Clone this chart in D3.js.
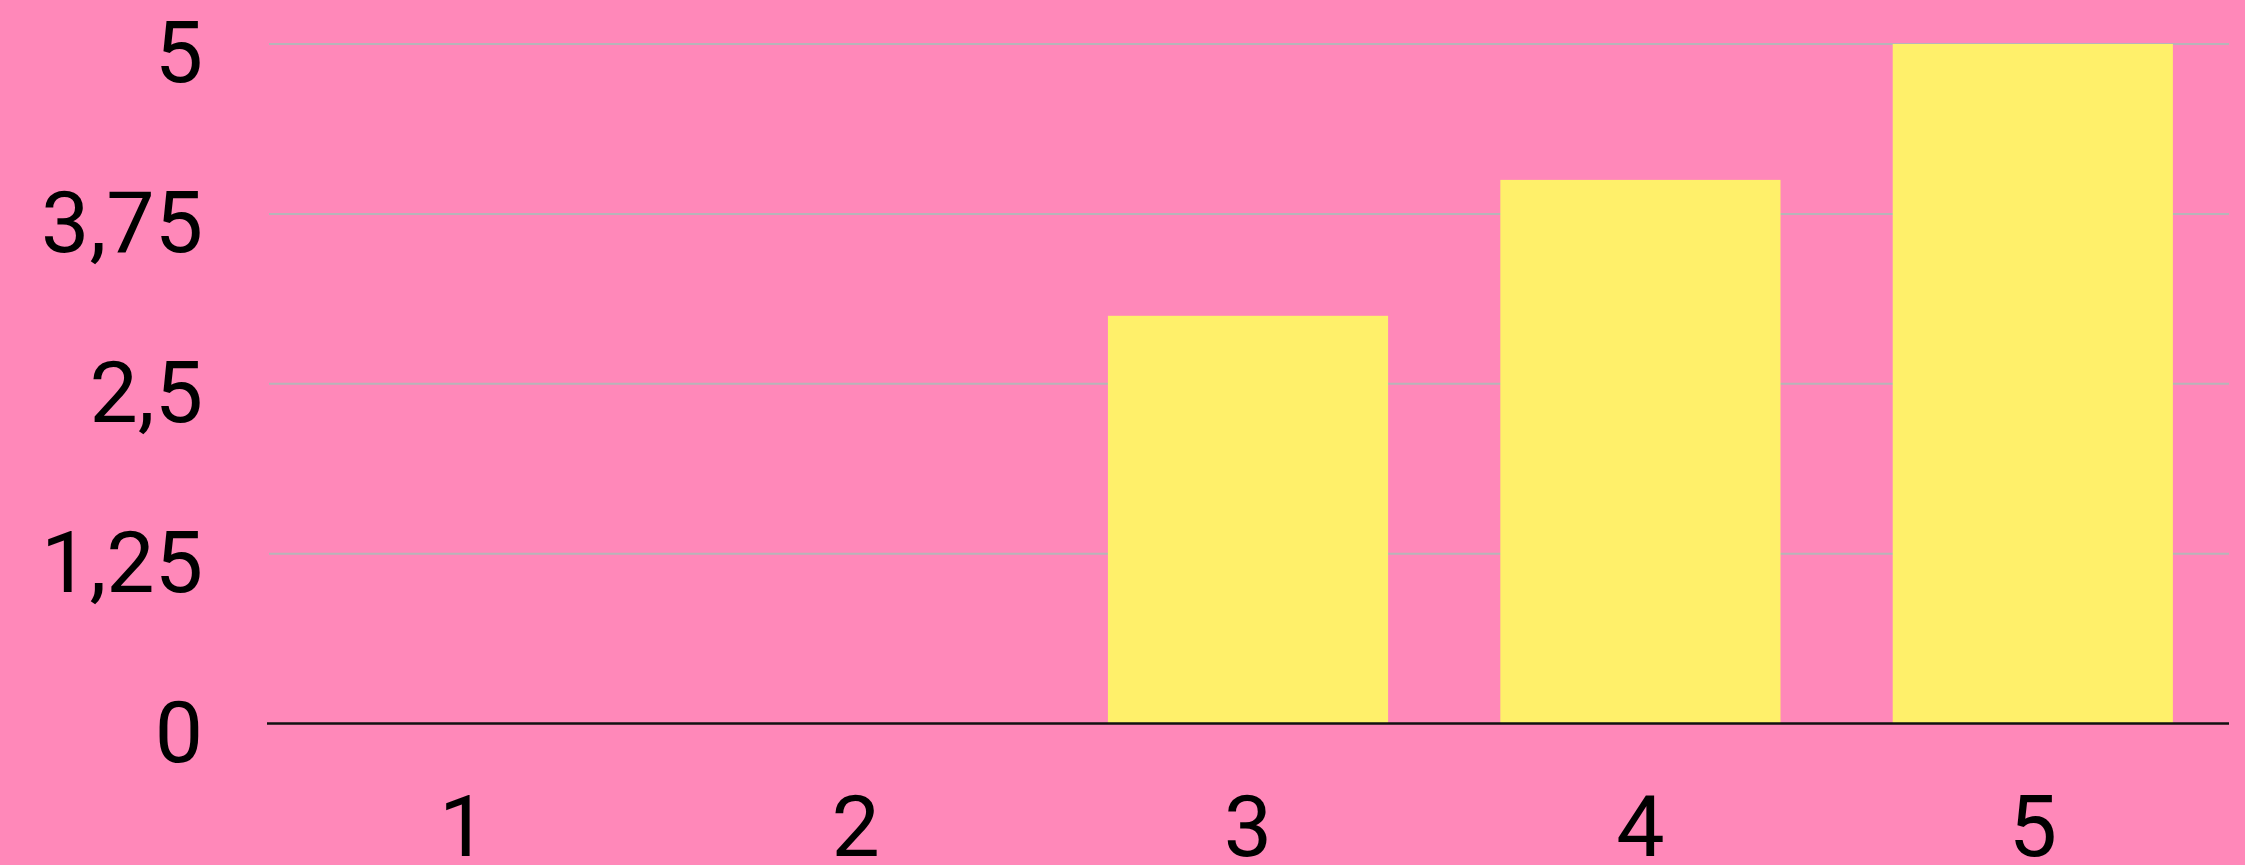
<!DOCTYPE html>
<html>
<head>
<meta charset="utf-8">
<script src="https://cdn.jsdelivr.net/npm/d3@7"></script>
<style>
  html, body { margin: 0; padding: 0; background: #ff88b9; }
  svg { display: block; }
  text { font-family: Roboto, "Open Sans", sans-serif; fill: #000; }
</style>
</head>
<body>
<svg id="chart" width="2245" height="865"></svg>
<script>
const categories = ["1", "2", "3", "4", "5"];
const values = [0, 0, 3, 4, 5];
const yTicks = [0, 1.25, 2.5, 3.75, 5];
const yTickLabels = ["0", "1,25", "2,5", "3,75", "5"];

(function () {
const W = 2245, H = 865;
const mLeft = 267, mRight = 2229, mTop = 44, mBottom = 723.5;
const FONT = "Roboto, 'Open Sans', sans-serif";

const svg = d3.select("#chart");
svg.append("rect").attr("width", W).attr("height", H).attr("fill", "#ff88b9");

const x = d3.scaleBand().domain(categories).range([mLeft, mRight])
  .paddingInner(0.286).paddingOuter(0.143);
const y = d3.scaleLinear().domain([0, 5]).range([mBottom, mTop]);

// gridlines
svg.append("g").selectAll("line").data(yTicks.filter(d => d > 0)).join("line")
  .attr("x1", mLeft + 2).attr("x2", mRight)
  .attr("y1", d => y(d)).attr("y2", d => y(d))
  .attr("stroke", "#b7b4b8").attr("stroke-width", 2);

// bars
svg.append("g").selectAll("rect").data(values).join("rect")
  .attr("x", (d, i) => x(categories[i]))
  .attr("width", x.bandwidth())
  .attr("y", d => y(d))
  .attr("height", d => y(0) - y(d))
  .attr("fill", "#fff06a");

// baseline
svg.append("line")
  .attr("x1", mLeft).attr("x2", mRight)
  .attr("y1", y(0)).attr("y2", y(0))
  .attr("stroke", "#111").attr("stroke-width", 2.5);

// y labels
const yAxis = d3.axisLeft(y).tickValues(yTicks)
  .tickFormat(d => yTickLabels[yTicks.indexOf(d)]).tickSize(0).tickPadding(0);
const gy = svg.append("g").attr("transform", "translate(203,0)").call(yAxis);
gy.select(".domain").remove();
gy.selectAll("text")
  .attr("font-size", 86).attr("font-family", FONT)
  .attr("fill", "#000").attr("dy", "0.44em").attr("text-anchor", "end");

// x labels
const xAxis = d3.axisBottom(x).tickSize(0).tickPadding(0);
const gx = svg.append("g").attr("transform", "translate(0,856)").call(xAxis);
gx.select(".domain").remove();
gx.selectAll("text")
  .attr("font-size", 86).attr("font-family", FONT)
  .attr("fill", "#000").attr("dy", "0").attr("y", 0);
})();
</script>
</body>
</html>
